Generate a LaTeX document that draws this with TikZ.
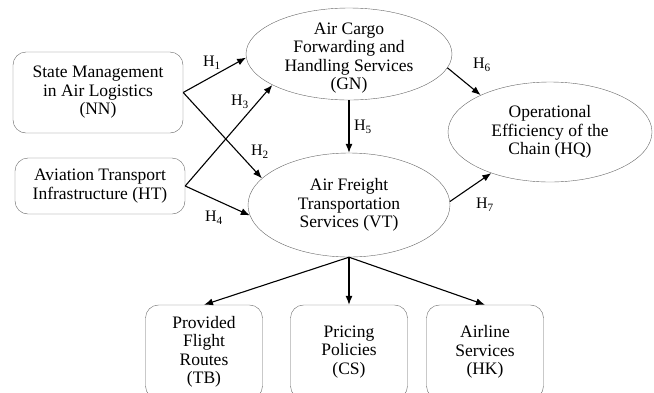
\documentclass[tikz,border=0pt]{standalone}
\usepackage{fontspec}
\setmainfont{Liberation Serif}
\usetikzlibrary{shapes.geometric,arrows.meta}

\tikzset{
  factor/.style={draw=gray!80!black, thin, rounded corners=13pt, align=center,
    font=\fontsize{17.5}{18.5}\selectfont},
  construct/.style={draw=gray!80!black, thin, ellipse, inner sep=0pt},
  ctext/.style={align=center, font=\fontsize{17.5}{18.5}\selectfont},
  hyp/.style={-{Latex[length=9pt,width=7pt]}, line width=1.1pt},
  hlabel/.style={font=\fontsize{16}{18}\selectfont, inner sep=1pt}
}

\begin{document}
\begin{tikzpicture}[x=1pt,y=-1pt]
\useasboundingbox (0,0) rectangle (654,392);

% Exogenous factors
\node[factor, minimum width=170pt, minimum height=81pt] (nn) at (98,92.5) {State Management\\in Air Logistics\\(NN)};
\node[factor, minimum width=170pt, minimum height=56pt] (ht) at (100,186) {Aviation Transport\\Infrastructure (HT)};

% Constructs
\node[construct, minimum width=206pt, minimum height=92pt] (gn) at (349,54) {};
\node[ctext] at ([yshift=-4pt]gn.center) {Air Cargo\\Forwarding and\\Handling Services\\(GN)};

\node[construct, minimum width=202pt, minimum height=104pt] (vt) at (349,205) {};
\node[ctext] at (vt) {Air Freight\\Transportation\\Services (VT)};

\node[construct, minimum width=204pt, minimum height=100pt] (hq) at (550,132) {};
\node[ctext] at (hq) {Operational\\Efficiency of the\\Chain (HQ)};

% Dimensions of VT
\node[factor, minimum width=117pt, minimum height=94pt] (tb) at (204,352) {Provided\\Flight\\Routes\\(TB)};
\node[factor, minimum width=117pt, minimum height=94pt] (cs) at (349,352) {Pricing\\Policies\\(CS)};
\node[factor, minimum width=117pt, minimum height=94pt] (hk) at (485,352) {Airline\\Services\\(HK)};

% Hypotheses
\draw[hyp] (nn.east) -- (gn.182);
\draw[hyp] (nn.east) -- (vt.163);
\draw[hyp] (ht.east) -- (gn.202);
\draw[hyp] (ht.east) -- (vt.186);
\draw[hyp] (gn.south) -- (vt.north);
\draw[hyp] (gn.352) -- (hq.152);
\draw[hyp] (vt.2) -- (hq.215);

\node[hlabel] (h1) at (212,63) {H\textsubscript{1}};
\node[hlabel] (h2) at (260,152) {H\textsubscript{2}};
\node[hlabel] (h3) at (240,102) {H\textsubscript{3}};
\node[hlabel] (h4) at (214,218) {H\textsubscript{4}};
\node[hlabel] (h5) at (363,127) {H\textsubscript{5}};
\node[hlabel] (h6) at (482,65) {H\textsubscript{6}};
\node[hlabel] (h7) at (485,205) {H\textsubscript{7}};

% Dimensions
\draw[hyp] (vt.south) -- (tb.north);
\draw[hyp] (vt.south) -- (cs.north);
\draw[hyp] (vt.south) -- (hk.north);

\end{tikzpicture}
\end{document}
